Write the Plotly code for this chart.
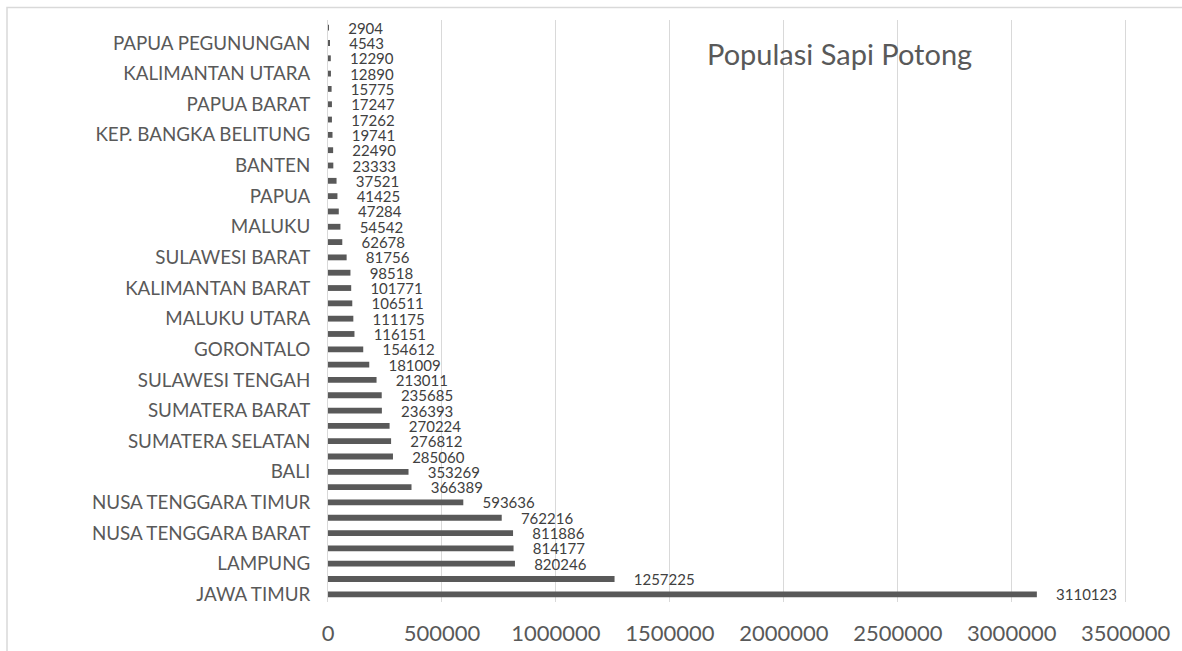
import plotly.graph_objects as go

# Categories listed bottom-to-top (as drawn on the chart)
provinces = [
    "JAWA TIMUR", "JAWA TENGAH", "LAMPUNG", "SULAWESI SELATAN",
    "NUSA TENGGARA BARAT", "ACEH", "NUSA TENGGARA TIMUR", "JAWA BARAT",
    "BALI", "SUMATERA UTARA", "SUMATERA SELATAN", "SULAWESI TENGGARA",
    "SUMATERA BARAT", "KALIMANTAN SELATAN", "SULAWESI TENGAH", "RIAU",
    "GORONTALO", "JAMBI", "MALUKU UTARA", "BENGKULU",
    "KALIMANTAN BARAT", "D.I. YOGYAKARTA", "SULAWESI BARAT", "SULAWESI UTARA",
    "MALUKU", "KALIMANTAN TIMUR", "PAPUA", "KALIMANTAN TENGAH",
    "BANTEN", "PAPUA SELATAN", "KEP. BANGKA BELITUNG", "KEP. RIAU",
    "PAPUA BARAT", "PAPUA TENGAH", "KALIMANTAN UTARA", "PAPUA BARAT DAYA",
    "PAPUA PEGUNUNGAN", "DKI JAKARTA",
]
populasi = [
    3110123, 1257225, 820246, 814177,
    811886, 762216, 593636, 366389,
    353269, 285060, 276812, 270224,
    236393, 235685, 213011, 181009,
    154612, 116151, 111175, 106511,
    101771, 98518, 81756, 62678,
    54542, 47284, 41425, 37521,
    23333, 22490, 19741, 17262,
    17247, 15775, 12890, 12290,
    4543, 2904,
]
shown_labels = provinces[0::2]
x_ticks = [0, 500000, 1000000, 1500000, 2000000, 2500000, 3000000, 3500000]
title_text = "Populasi Sapi Potong"

FONT = "Lato"
GRAY = "#595959"

fig = go.Figure()
fig.add_trace(go.Bar(
    x=populasi,
    y=provinces,
    orientation="h",
    marker=dict(color=GRAY, line=dict(width=0)),
    text=[str(v) for v in populasi],
    texttemplate="\u00a0\u00a0\u00a0\u00a0\u00a0%{text}",
    textposition="outside",
    constraintext="none",
    textfont=dict(family=FONT, size=15, color="#404040"),
    outsidetextfont=dict(family=FONT, size=15, color="#404040"),
    cliponaxis=False,
    hoverinfo="x+y",
))

W, H = 1182, 651
ml, mr, mt, mb = 328, 54, 20, 49
pw, ph = W - ml - mr, H - mt - mb

fig.update_layout(
    width=W, height=H,
    margin=dict(l=ml, r=mr, t=mt, b=mb, pad=0, autoexpand=False),
    paper_bgcolor="white",
    plot_bgcolor="white",
    bargap=0.62,
    showlegend=False,
    font=dict(family=FONT, color=GRAY),
    xaxis=dict(
        range=[0, 3510000],
        tickvals=x_ticks,
        ticktext=[str(v) for v in x_ticks],
        showgrid=True,
        gridcolor="#d9d9d9",
        gridwidth=1,
        zeroline=False,
        showline=False,
        ticks="",
        tickfont=dict(family=FONT, size=22, color=GRAY),
        ticklabelstandoff=16,
        automargin=False,
        fixedrange=True,
    ),
    yaxis=dict(
        type="category",
        categoryorder="array",
        categoryarray=provinces,
        tickvals=shown_labels,
        ticktext=shown_labels,
        showgrid=False,
        showline=True,
        linecolor="#d9d9d9",
        linewidth=1,
        ticks="",
        tickfont=dict(family=FONT, size=18.8, color=GRAY),
        ticklabelstandoff=13,
        automargin=False,
        fixedrange=True,
    ),
    annotations=[dict(
        text=title_text,
        xref="paper", yref="paper",
        x=(839 - ml) / pw, y=(H - mb - 53) / ph,
        xanchor="center", yanchor="middle",
        showarrow=False,
        font=dict(family=FONT, size=29, color=GRAY),
    )],
    shapes=[dict(
        type="rect", xref="paper", yref="paper",
        x0=(7 - ml) / pw, x1=(1190 - ml) / pw,
        y0=(H - mb - 660) / ph, y1=(H - mb - 7.5) / ph,
        line=dict(color="#d9d9d9", width=1.5),
        fillcolor="rgba(0,0,0,0)",
        layer="below",
    )],
)

fig.write_html(
    "out.html",
    config={"displayModeBar": False},
    post_script="document.body.style.margin='0';document.body.style.overflow='hidden';",
)
